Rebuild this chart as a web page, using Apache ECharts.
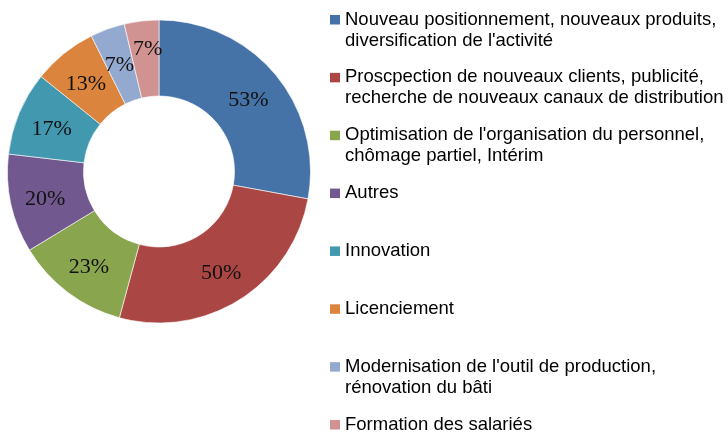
<!DOCTYPE html>
<html>
<head>
<meta charset="utf-8">
<script src="https://cdn.jsdelivr.net/npm/echarts@6/dist/echarts.min.js"></script>
<style>html,body{margin:0;padding:0;background:#fff}#c{width:728px;height:434px}</style>
</head>
<body>
<div id="c"></div>
<script>
const categories = [
  "Nouveau positionnement, nouveaux produits,\ndiversification de l'activité",
  "Proscpection de nouveaux clients, publicité,\nrecherche de nouveaux canaux de distribution",
  "Optimisation de l'organisation du personnel,\nchômage partiel, Intérim",
  "Autres",
  "Innovation",
  "Licenciement",
  "Modernisation de l'outil de production,\nrénovation du bâti",
  "Formation des salariés"
];
const values = [53, 50, 23, 20, 17, 13, 7, 7];
const colors = ["#4572A7", "#AA4643", "#89A54E", "#71588F", "#4198AF", "#DB843D", "#93A9CF", "#D19392"];

const labelOffsets = {7: [2, -7]};

const chart = echarts.init(document.getElementById('c'), null, {renderer: 'canvas'});
chart.setOption({
  animation: false,
  backgroundColor: '#fff',
  color: colors,
  legend: {
    orient: 'vertical',
    left: 330,
    top: 9,
    height: 500,
    padding: 0,
    itemGap: 15.86,
    itemWidth: 10,
    itemHeight: 42,
    icon: 'path://M0,0L0,0M0,6h10v9.5h-10zM0,42L0,42',
    itemStyle: {borderWidth: 0},
    formatter: function (name) { return name.indexOf('\n') >= 0 ? name : name + '\n '; },
    textStyle: {fontFamily: 'Liberation Sans, Arial, sans-serif', fontSize: 18.5, lineHeight: 21, color: '#000'},
    data: categories
  },
  series: [{
    type: 'pie',
    center: [159, 171.5],
    radius: [75.5, 151.5],
    startAngle: 90,
    clockwise: true,
    avoidLabelOverlap: false,
    labelLayout: {hideOverlap: false},
    itemStyle: {borderColor: '#fff', borderWidth: 0.6},
    label: {
      show: true,
      position: 'inside',
      formatter: '{c}%',
      offset: [0, 3],
      fontFamily: 'Liberation Serif, Times New Roman, serif',
      fontSize: 22,
      color: '#111'
    },
    labelLine: {show: false},
    emphasis: {disabled: true},
    data: categories.map((n, i) => {
      const d = {name: n, value: values[i]};
      if (labelOffsets[i]) d.label = {offset: labelOffsets[i]};
      return d;
    })
  }]
});
</script>
</body>
</html>
